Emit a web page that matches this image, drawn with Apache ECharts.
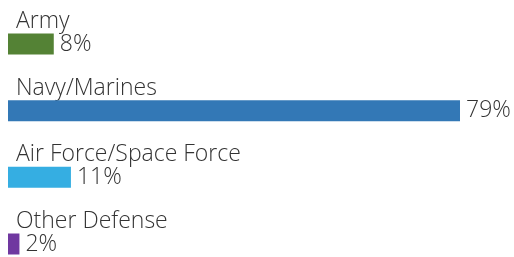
<!DOCTYPE html>
<html>
<head>
<meta charset="utf-8">
<script src="https://cdn.jsdelivr.net/npm/echarts@6/dist/echarts.min.js"></script>
<style>
  html, body { margin: 0; padding: 0; background: #fff; }
  #chart { width: 514px; height: 257px; }
</style>
</head>
<body>
<div id="chart"></div>
<script>
// branches and their shares (%)
const categories = ["Army", "Navy/Marines", "Air Force/Space Force", "Other Defense"];
const shares = [8, 79, 11, 2];
const barColors = ["#548235", "#3378b6", "#35aee2", "#7038a0"];

const chart = echarts.init(document.getElementById("chart"));

chart.setOption({
    animation: false,
    grid: { left: 8, top: 44, width: 452, bottom: 13 },
    xAxis: {
        type: "value",
        min: 0,
        max: 79,
        show: false
    },
    yAxis: {
        type: "category",
        data: categories,
        inverse: true,
        boundaryGap: false,
        axisLine: { show: false },
        axisTick: { show: false },
        splitLine: { show: false },
        axisLabel: {
            inside: true,
            margin: 8,
            verticalAlign: "bottom",
            padding: [0, 0, 11, 0],
            fontFamily: "Open Sans",
            fontWeight: 300,
            fontSize: 23,
            color: "#333"
        }
    },
    series: [{
        type: "bar",
        barWidth: 21,
        data: shares.map((v, i) => ({ value: v, itemStyle: { color: barColors[i] } })),
        label: {
            show: true,
            position: "right",
            distance: 6,
            formatter: "{c}%",
            fontFamily: "Open Sans",
            fontWeight: 300,
            fontSize: 23,
            color: "#333"
        }
    }]
});
</script>
</body>
</html>
